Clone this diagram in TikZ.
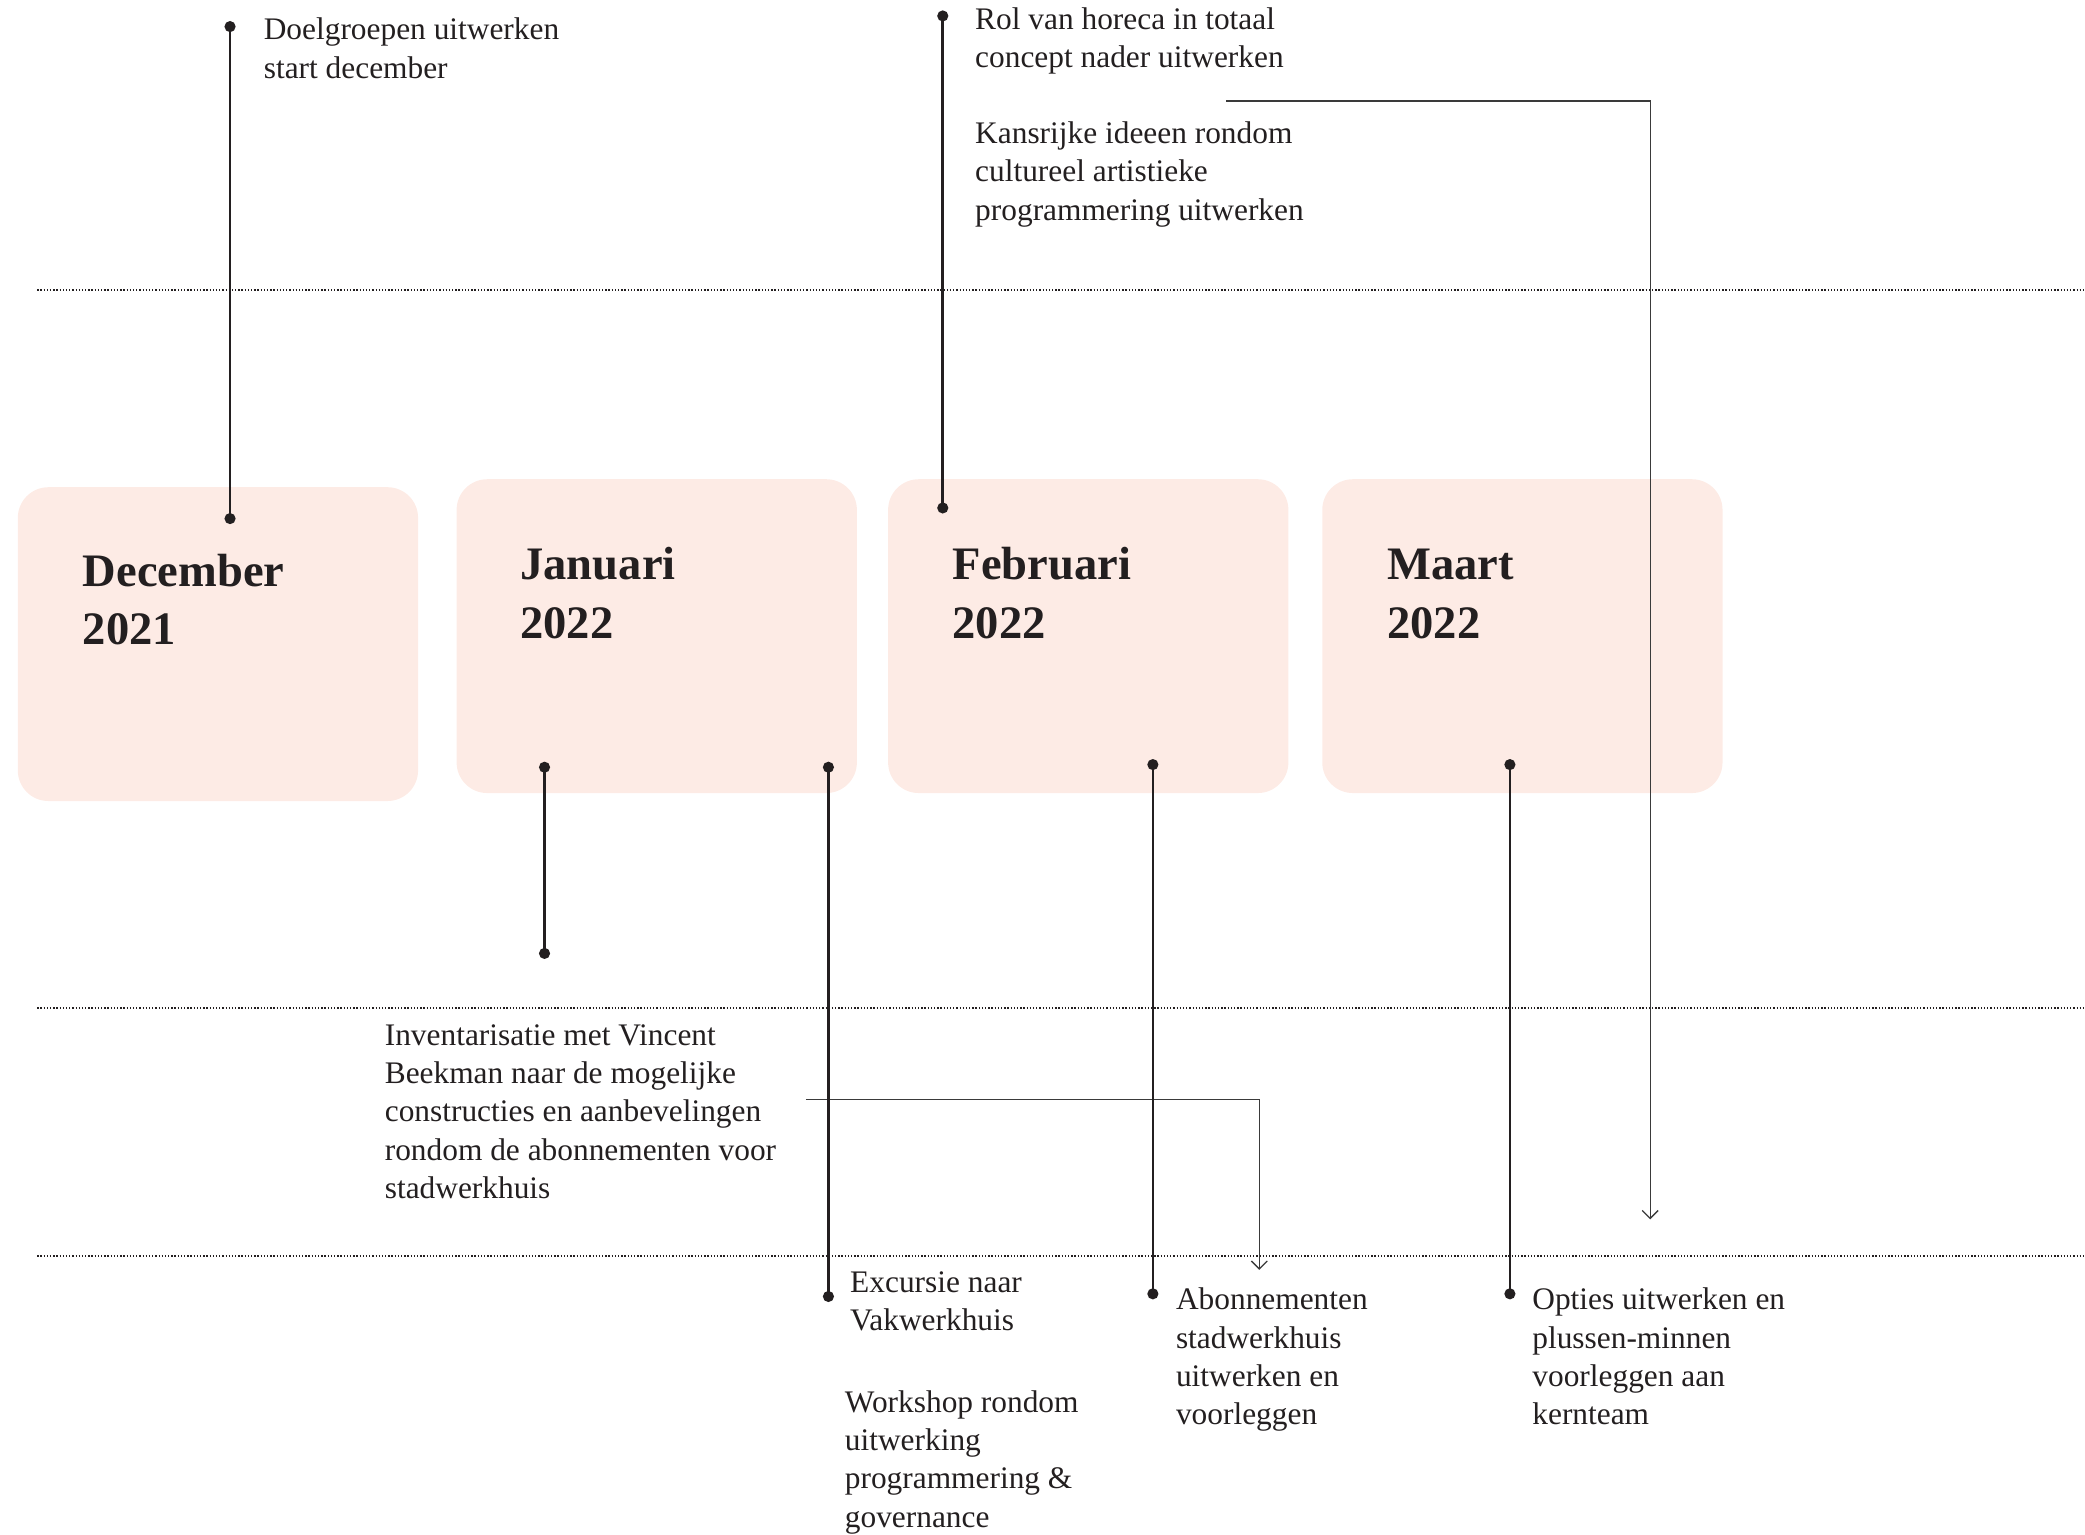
\documentclass[tikz,border=0pt]{standalone}
\usepackage{fontspec}
\setmainfont{Liberation Serif}
\usetikzlibrary{arrows.meta}
\definecolor{ink}{HTML}{231F20}
\definecolor{boxpink}{HTML}{FDEBE5}
\definecolor{thinline}{HTML}{3A3A3A}
\begin{document}
\begin{tikzpicture}[x=0.5pt,y=-0.5pt,
  monthbox/.style={fill=boxpink, draw=none, rounded corners=11.5pt, anchor=north west, inner sep=0,
                   minimum width=150.5pt, minimum height=118pt},
  monthlbl/.style={anchor=base west, inner sep=0, text=ink, font=\bfseries\fontsize{17.5}{22}\selectfont},
  lbl/.style={anchor=base west, inner sep=0, text=ink, font=\fontsize{11.8}{14.4}\selectfont},
  dotn/.style={circle, fill=ink, inner sep=0, minimum size=4.2pt},
  conn/.style={draw=ink, line width=1pt},
  flow/.style={draw=thinline, line width=0.5pt, -{Straight Barb[length=3pt,width=6pt]}},
  gridline/.style={draw=ink, line width=0.6pt, dash pattern=on 0.5pt off 0.7pt}
]
\useasboundingbox (0,0) rectangle (1568,1154);

% month boxes
\node[monthbox, minimum height=118pt] (bdec) at (13,366) {};
\node[monthbox] (bjan) at (343,360) {};
\node[monthbox] (bfeb) at (667.5,360) {};
\node[monthbox] (bmar) at (994,360) {};

\node[monthlbl] (mdec) at (62,441) {\begin{tabular}[t]{@{}l@{}}December\\2021\end{tabular}};
\node[monthlbl] (mjan) at (391,436) {\begin{tabular}[t]{@{}l@{}}Januari\\2022\end{tabular}};
\node[monthlbl] (mfeb) at (716,436) {\begin{tabular}[t]{@{}l@{}}Februari\\2022\end{tabular}};
\node[monthlbl] (mmar) at (1043,436) {\begin{tabular}[t]{@{}l@{}}Maart\\2022\end{tabular}};

% dotted separators
\coordinate (g1l) at (28,218);  \coordinate (g1r) at (1568,218);
\coordinate (g2l) at (28,758);  \coordinate (g2r) at (1568,758);
\coordinate (g3l) at (28,944.5);  \coordinate (g3r) at (1568,944.5);
\draw[gridline] (g1l) -- (g1r);
\draw[gridline] (g2l) -- (g2r);
\draw[gridline] (g3l) -- (g3r);

% thin arrows
\coordinate (r1s) at (922,76);  \coordinate (r1e) at (1241,917);
\coordinate (r2s) at (606,827); \coordinate (r2e) at (947,955);
\draw[flow] (r1s) -| (r1e);
\draw[flow] (r2s) -| (r2e);

% dots
\node[dotn] (d1a) at (173,20) {};
\node[dotn] (d1b) at (173,390) {};
\node[dotn] (d2a) at (409.5,577) {};
\node[dotn] (d2b) at (409.5,717) {};
\node[dotn] (d3a) at (623,577) {};
\node[dotn] (d3b) at (623,975) {};
\node[dotn] (d4a) at (709,12) {};
\node[dotn] (d4b) at (709,382) {};
\node[dotn] (d5a) at (867,575) {};
\node[dotn] (d5b) at (867,973) {};
\node[dotn] (d6a) at (1135.5,575) {};
\node[dotn] (d6b) at (1135.5,973) {};

\draw[conn] (d1a.center) -- (d1b.center);
\draw[conn] (d2a.center) -- (d2b.center);
\draw[conn] (d3a.center) -- (d3b.center);
\draw[conn] (d4a.center) -- (d4b.center);
\draw[conn] (d5a.center) -- (d5b.center);
\draw[conn] (d6a.center) -- (d6b.center);

% labels
\node[lbl] (tdoel) at (198,30) {\begin{tabular}[t]{@{}l@{}}Doelgroepen uitwerken\\start december\end{tabular}};
\node[lbl] (trol) at (733,22) {\begin{tabular}[t]{@{}l@{}}Rol van horeca in totaal\\concept nader uitwerken\end{tabular}};
\node[lbl] (tkans) at (733,108) {\begin{tabular}[t]{@{}l@{}}Kansrijke ideeen rondom\\cultureel artistieke\\programmering uitwerken\end{tabular}};
\node[lbl] (tinv) at (289,786) {\begin{tabular}[t]{@{}l@{}}Inventarisatie met Vincent\\Beekman naar de mogelijke\\constructies en aanbevelingen\\rondom de abonnementen voor\\stadwerkhuis\end{tabular}};
\node[lbl] (texc) at (639,972) {\begin{tabular}[t]{@{}l@{}}Excursie naar\\Vakwerkhuis\end{tabular}};
\node[lbl] (twork) at (635,1062) {\begin{tabular}[t]{@{}l@{}}Workshop rondom\\uitwerking\\programmering \&\\governance\end{tabular}};
\node[lbl] (tabo) at (884,985) {\begin{tabular}[t]{@{}l@{}}Abonnementen\\stadwerkhuis\\uitwerken en\\voorleggen\end{tabular}};
\node[lbl] (topt) at (1152,985) {\begin{tabular}[t]{@{}l@{}}Opties uitwerken en\\plussen-minnen\\voorleggen aan\\kernteam\end{tabular}};
\end{tikzpicture}
\end{document}
